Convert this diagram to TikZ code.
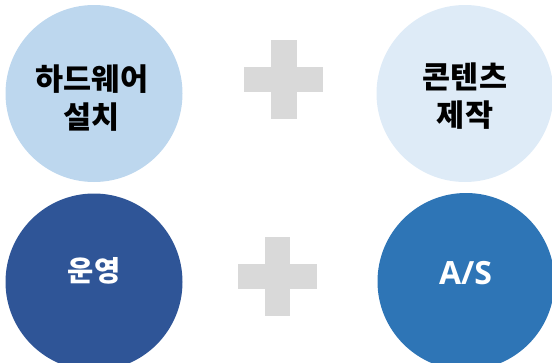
\documentclass[tikz,border=0pt]{standalone}
\usepackage{fontspec}
\newfontfamily\kr{Noto Sans CJK KR}
\newfontfamily\os{Open Sans}
\definecolor{cone}{HTML}{BDD7EE}
\definecolor{ctwo}{HTML}{DEEBF7}
\definecolor{cthree}{HTML}{2F5597}
\definecolor{cfour}{HTML}{2E75B6}
\definecolor{plusgray}{HTML}{D9D9D9}
\begin{document}
\begin{tikzpicture}[x=1pt,y=-1pt,
  disc/.style={circle,inner sep=0pt,minimum size=177pt,draw=none},
  lab/.style={align=center,inner sep=0pt,font=\kr\bfseries\fontsize{30.5}{38}\selectfont},
  pluspart/.style={fill=plusgray}]
\useasboundingbox (0,0) rectangle (552,362);
\clip (0,0) rectangle (552,362);
\node[disc,fill=cone] (hw) at (94,93.5) {};
\node[disc,fill=ctwo] (ct) at (465,93.5) {};
\node[disc,fill=cthree] (op) at (94,282) {};
\node[disc,fill=cfour] (as) at (466,281.5) {};
\node[lab,text=black] (thw) at (92,98) {하드웨어\\설치};
\node[lab,text=black] (tct) at (465,96) {콘텐츠\\제작};
\node[lab,text=white,font=\kr\bfseries\fontsize{28.5}{36}\selectfont] (top) at (94,271) {운영};
\node[lab,text=white,font=\os\bfseries\fontsize{32}{38}\selectfont] (tas) at (465.5,273.5) {A/S};
% plus signs
\fill[pluspart] (271,40) rectangle (297,119);
\fill[pluspart] (244,67) rectangle (323,92);
\fill[pluspart] (265,237) rectangle (290,316);
\fill[pluspart] (238,264) rectangle (317,289);
\end{tikzpicture}
\end{document}
